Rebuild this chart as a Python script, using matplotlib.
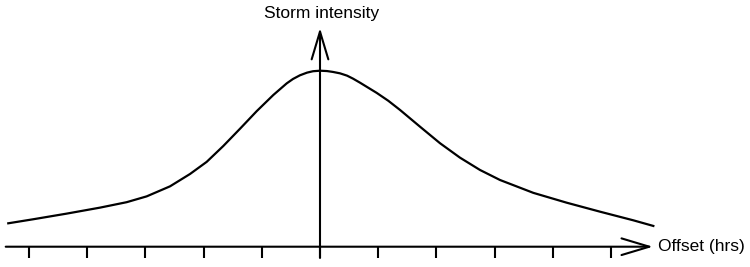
import matplotlib.pyplot as plt

plt.rcParams['font.family'] = ['Liberation Sans', 'DejaVu Sans']

# offset in hours vs relative storm intensity (peak = 100)
offset_hrs = [-5.356, -4.926, -4.352, -3.780, -3.321, -2.978, -2.577, -2.234, -1.947,
              -1.662, -1.375, -1.088, -0.802, -0.572, -0.464, -0.344, -0.223, -0.120,
              0.0, 0.120, 0.223, 0.344, 0.464, 0.567, 0.687, 0.974, 1.174, 1.375,
              1.718, 2.062, 2.405, 2.749, 3.093, 3.665, 4.239, 4.811, 5.383, 5.727]
intensity = [13.3, 15.6, 18.8, 22.2, 25.3, 28.6, 34.3, 41.3, 48.2,
             57.2, 67.0, 77.0, 86.2, 92.8, 95.3, 97.4, 98.9, 99.7,
             100.0, 99.8, 99.3, 98.5, 97.2, 95.5, 93.2, 87.4, 82.9, 77.7,
             68.2, 58.8, 50.6, 43.6, 37.9, 30.6, 25.0, 19.9, 15.0, 11.8]
tick_hrs = [-5, -4, -3, -2, -1, 0, 1, 2, 3, 4, 5]

fig = plt.figure(figsize=(7.5, 2.67), dpi=100)
ax = fig.add_axes([0, 0, 1, 1])
ax.set_xlim(-5.498, 7.388)
ax.set_ylim(-11.53, 140.17)
ax.axis('off')

ax.plot(offset_hrs, intensity, color='black', lw=1.6, solid_joinstyle='round')

arrow = dict(arrowstyle='->,head_length=1.0,head_width=0.3', lw=1.5,
             color='black', mutation_scale=20, shrinkA=0, shrinkB=0)
# x axis
ax.annotate('', xy=(5.72, 0), xytext=(-5.40, 0), arrowprops=arrow)
# y axis
ax.annotate('', xy=(0, 124.3), xytext=(0, -6.4), arrowprops=arrow)

for t in tick_hrs:
    ax.plot([t, t], [0, -6.4], color='black', lw=1.5, solid_capstyle='butt')

ax.text(5.80, 0, 'Offset (hrs)', fontsize=12.5, va='center', ha='left')
ax.text(0.02, 128.5, 'Storm intensity', fontsize=12.5, va='bottom', ha='center')

fig.savefig('out.png', dpi=100)
